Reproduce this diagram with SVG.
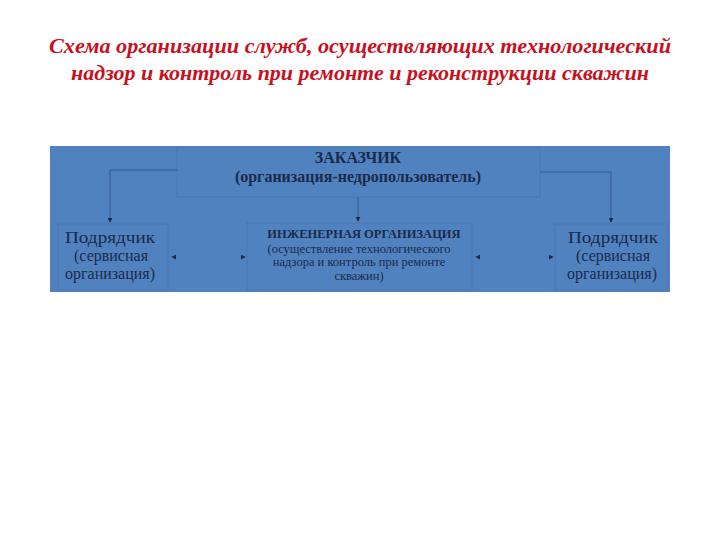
<svg xmlns="http://www.w3.org/2000/svg" width="720" height="540" viewBox="0 0 720 540">
<style>
.title{font-family:"Liberation Serif",serif;font-style:italic;font-weight:bold;font-size:22px;fill:#C8101E;text-anchor:middle}
.box{fill:#5182C0;stroke:#4A76AE;stroke-width:1}
.t{font-family:"Liberation Serif",serif;fill:#1B2A4A;text-anchor:middle}
.big{font-size:16px}
.b{font-weight:bold}
.conn{fill:none;stroke:#34578A;stroke-width:1}
.hid{fill:none;stroke:#5080BE;stroke-width:1}
</style>
<defs>
<marker id="ah" viewBox="0 0 6 6" refX="5" refY="3" markerWidth="5" markerHeight="5" orient="auto">
<path d="M0,0 L6,3 L0,6 z" fill="#1B2A4A"/>
</marker>
</defs>
<rect x="0" y="0" width="720" height="540" fill="#FFFFFF"/>
<g id="title">
<text class="title" x="360" y="53" textLength="622" lengthAdjust="spacingAndGlyphs">Схема организации служб, осуществляющих технологический</text>
<text class="title" x="360" y="80" textLength="578" lengthAdjust="spacingAndGlyphs">надзор и контроль при ремонте и реконструкции скважин</text>
</g>
<rect x="50" y="146" width="620" height="146" fill="#5182C0"/>
<g id="customer">
<rect class="box" x="177" y="148" width="363" height="49"/>
<text class="t b" font-size="16" x="358" y="163">ЗАКАЗЧИК</text>
<text class="t b" font-size="16" x="358" y="182">(организация-недропользователь)</text>
</g>
<g id="contractor-left">
<rect class="box" x="58" y="224" width="110" height="66"/>
<text class="t big" x="110" y="243" textLength="90" lengthAdjust="spacingAndGlyphs">Подрядчик</text>
<text class="t big" x="111" y="261">(сервисная</text>
<text class="t big" x="110" y="279">организация)</text>
</g>
<g id="engineering">
<rect class="box" x="247" y="223" width="225" height="67"/>
<text class="t b" font-size="12.5" x="364" y="238">ИНЖЕНЕРНАЯ ОРГАНИЗАЦИЯ</text>
<text class="t" font-size="12.5" x="359" y="253">(осуществление технологического</text>
<text class="t" font-size="12.5" x="359" y="266">надзора и контроль при ремонте</text>
<text class="t" font-size="12.5" x="359" y="280">скважин)</text>
</g>
<g id="contractor-right">
<rect class="box" x="555" y="224" width="112" height="66"/>
<text class="t big" x="613" y="243" textLength="90" lengthAdjust="spacingAndGlyphs">Подрядчик</text>
<text class="t big" x="613" y="261">(сервисная</text>
<text class="t big" x="612" y="279">организация)</text>
</g>
<g id="connectors">
<path class="conn" d="M177,170 H110 V222" marker-end="url(#ah)"/>
<path class="conn" d="M540,172 H611 V222" marker-end="url(#ah)"/>
<path class="conn" d="M358,197 V221" marker-end="url(#ah)"/>
<path class="hid" d="M208,257 H172" marker-end="url(#ah)"/>
<path class="hid" d="M208,257 H245" marker-end="url(#ah)"/>
<path class="hid" d="M514,257 H476" marker-end="url(#ah)"/>
<path class="hid" d="M514,257 H553" marker-end="url(#ah)"/>
</g>
</svg>
